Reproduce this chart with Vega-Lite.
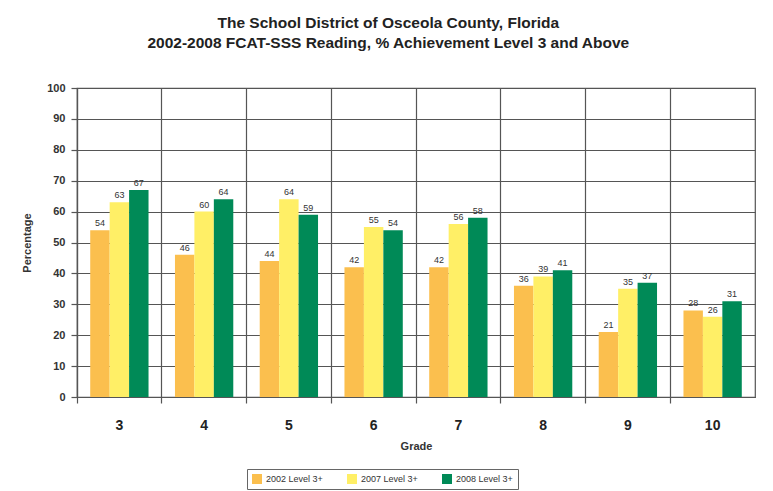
{
  "$schema": "https://vega.github.io/schema/vega-lite/v6.json",
  "width": 773,
  "height": 491,
  "autosize": {"type": "fit", "contains": "padding"},
  "padding": {"left": 21, "right": 18, "top": 15, "bottom": 40},
  "background": "white",
  "title": {
    "text": ["The School District of Osceola County, Florida", "2002-2008 FCAT-SSS Reading, % Achievement Level 3 and Above"],
    "font": "Liberation Sans",
    "fontSize": 15.5,
    "fontWeight": "bold",
    "color": "#222222",
    "anchor": "middle",
    "frame": "bounds",
    "lineHeight": 20,
    "offset": 31
  },
  "data": {
    "values": [
      {"grade": "3", "series": "2002 Level 3+", "value": 54},
      {"grade": "3", "series": "2007 Level 3+", "value": 63},
      {"grade": "3", "series": "2008 Level 3+", "value": 67},
      {"grade": "4", "series": "2002 Level 3+", "value": 46},
      {"grade": "4", "series": "2007 Level 3+", "value": 60},
      {"grade": "4", "series": "2008 Level 3+", "value": 64},
      {"grade": "5", "series": "2002 Level 3+", "value": 44},
      {"grade": "5", "series": "2007 Level 3+", "value": 64},
      {"grade": "5", "series": "2008 Level 3+", "value": 59},
      {"grade": "6", "series": "2002 Level 3+", "value": 42},
      {"grade": "6", "series": "2007 Level 3+", "value": 55},
      {"grade": "6", "series": "2008 Level 3+", "value": 54},
      {"grade": "7", "series": "2002 Level 3+", "value": 42},
      {"grade": "7", "series": "2007 Level 3+", "value": 56},
      {"grade": "7", "series": "2008 Level 3+", "value": 58},
      {"grade": "8", "series": "2002 Level 3+", "value": 36},
      {"grade": "8", "series": "2007 Level 3+", "value": 39},
      {"grade": "8", "series": "2008 Level 3+", "value": 41},
      {"grade": "9", "series": "2002 Level 3+", "value": 21},
      {"grade": "9", "series": "2007 Level 3+", "value": 35},
      {"grade": "9", "series": "2008 Level 3+", "value": 37},
      {"grade": "10", "series": "2002 Level 3+", "value": 28},
      {"grade": "10", "series": "2007 Level 3+", "value": 26},
      {"grade": "10", "series": "2008 Level 3+", "value": 31}
    ]
  },
  "encoding": {
    "xOffset": {
      "field": "series",
      "type": "nominal",
      "scale": {"paddingInner": 0, "paddingOuter": 0.68}
    },
    "y": {
      "field": "value",
      "type": "quantitative",
      "scale": {"domain": [0, 100], "nice": false},
      "axis": {
        "title": "Percentage",
        "titleFont": "Liberation Sans",
        "titleFontSize": 11,
        "titleFontWeight": "bold",
        "titleColor": "#333333",
        "titlePadding": 14,
        "values": [0, 10, 20, 30, 40, 50, 60, 70, 80, 90, 100],
        "labelFont": "Liberation Sans",
        "labelFontSize": 11,
        "labelFontWeight": "bold",
        "labelColor": "#333333",
        "labelPadding": 6,
        "tickSize": 6,
        "tickColor": "#555555",
        "tickWidth": 1.2,
        "domainColor": "#555555",
        "domainWidth": 1.2,
        "grid": true,
        "gridColor": "#555555",
        "gridWidth": 1.2,
        "gridOpacity": 1
      }
    }
  },
  "layer": [
    {
      "mark": {"type": "bar"},
      "encoding": {
        "x": {
          "field": "grade",
          "type": "ordinal",
          "sort": ["3", "4", "5", "6", "7", "8", "9", "10"],
          "scale": {"paddingInner": 0, "paddingOuter": 0},
          "axis": {
            "orient": "bottom",
            "bandPosition": 0,
            "grid": true,
            "gridColor": "#555555",
            "gridWidth": 1.2,
            "gridOpacity": 1,
            "labels": false,
            "ticks": true,
            "tickSize": 6,
            "tickColor": "#555555",
            "tickWidth": 1.2,
            "domain": true,
            "domainColor": "#555555",
            "domainWidth": 1.2,
            "title": null
          }
        },
        "color": {
          "field": "series",
          "type": "nominal",
          "scale": {
            "domain": ["2002 Level 3+", "2007 Level 3+", "2008 Level 3+"],
            "range": ["#FBBF4E", "#FFEF66", "#008A57"]
          },
          "legend": {
            "orient": "none",
            "legendX": 170,
            "legendY": 381,
            "direction": "horizontal",
            "title": null,
            "symbolType": "square",
            "symbolSize": 100,
            "symbolStrokeWidth": 0,
            "symbolOpacity": 1,
            "labelFont": "Liberation Sans",
            "labelFontSize": 9,
            "labelColor": "#333333",
            "labelOffset": 4,
            "columnPadding": 24,
            "strokeColor": "#666666",
            "padding": 5
          }
        }
      }
    },
    {
      "mark": {
        "type": "text",
        "dy": -7,
        "font": "Liberation Sans",
        "fontSize": 9,
        "color": "#333333"
      },
      "encoding": {
        "x": {
          "field": "grade",
          "type": "ordinal",
          "sort": ["3", "4", "5", "6", "7", "8", "9", "10"],
          "axis": {
            "orient": "bottom",
            "grid": false,
            "ticks": false,
            "domain": false,
            "labelAngle": 0,
            "labelFont": "Liberation Sans",
            "labelFontSize": 14,
            "labelFontWeight": "bold",
            "labelColor": "#222222",
            "labelPadding": 21,
            "title": "Grade",
            "titleFont": "Liberation Sans",
            "titleFontSize": 11,
            "titleFontWeight": "bold",
            "titleColor": "#333333",
            "titlePadding": 8
          }
        },
        "text": {"field": "value", "type": "quantitative"}
      }
    }
  ],
  "resolve": {"axis": {"x": "independent"}},
  "config": {
    "view": {"stroke": "#555555", "strokeWidth": 1.2}
  }
}
